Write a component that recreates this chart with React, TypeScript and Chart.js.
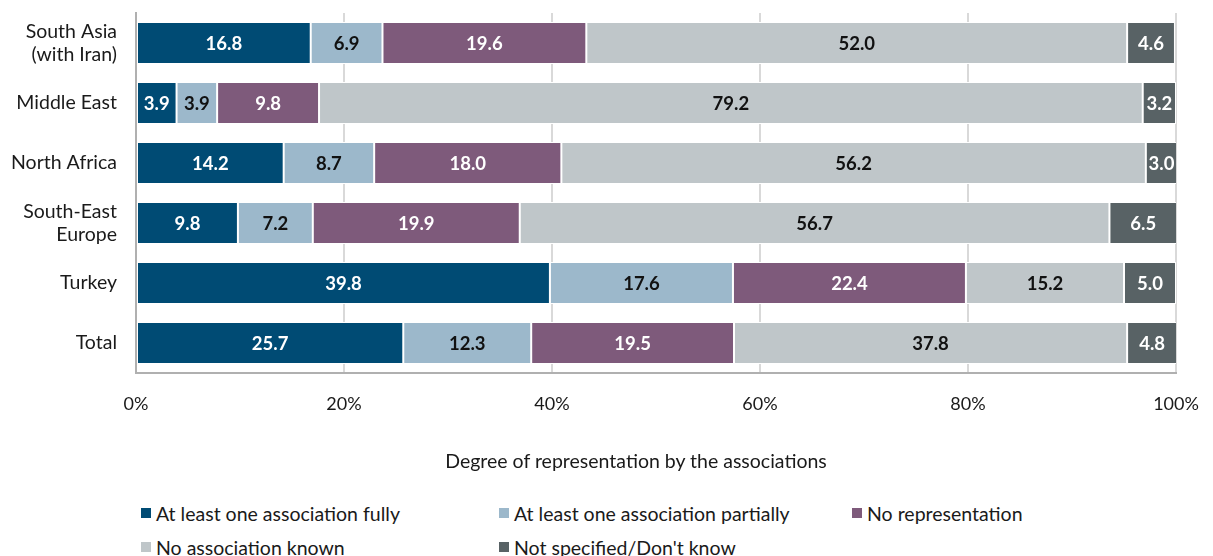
import React, { useEffect, useRef } from "react";
import { Chart, registerables } from "chart.js";

Chart.register(...registerables);

const categories: (string | string[])[] = [
  ["South Asia", "(with Iran)"],
  "Middle East",
  "North Africa",
  ["South-East", "Europe"],
  "Turkey",
  "Total",
];

const seriesNames = [
  "At least one association fully",
  "At least one association partially",
  "No representation",
  "No association known",
  "Not specified/Don't know",
];

const fully = [16.8, 3.9, 14.2, 9.8, 39.8, 25.7];
const partially = [6.9, 3.9, 8.7, 7.2, 17.6, 12.3];
const noRepresentation = [19.6, 9.8, 18.0, 19.9, 22.4, 19.5];
const noneKnown = [52.0, 79.2, 56.2, 56.7, 15.2, 37.8];
const notSpecified = [4.6, 3.2, 3.0, 6.5, 5.0, 4.8];

const xTicks = [0, 20, 40, 60, 80, 100];
const axisTitle = "Degree of representation by the associations";

const colors = ["#004b74", "#9cb8cb", "#7e5a7b", "#bfc6c9", "#586265"];
const labelColors = ["#ffffff", "#111111", "#ffffff", "#111111", "#ffffff"];

const FONT = "Lato, 'Noto Sans', sans-serif";

const valueLabels = {
  id: "valueLabels",
  afterDatasetsDraw(chart: any) {
    const ctx = chart.ctx;
    ctx.save();
    ctx.font = `bold 18.5px ${FONT}`;
    ctx.textAlign = "center";
    ctx.textBaseline = "middle";
    chart.data.datasets.forEach((ds: any, i: number) => {
      const meta = chart.getDatasetMeta(i);
      meta.data.forEach((bar: any, j: number) => {
        const v = ds.data[j];
        const p = bar.getCenterPoint();
        ctx.fillStyle = labelColors[i];
        ctx.fillText(Number(v).toFixed(1), p.x, p.y + 1);
      });
    });
    ctx.restore();
  },
};

export default function App() {
  const ref = useRef<HTMLCanvasElement>(null);

  useEffect(() => {
    if (!ref.current) return;
    const all = [fully, partially, noRepresentation, noneKnown, notSpecified];
    const chart = new Chart(ref.current, {
      type: "bar",
      data: {
        labels: categories,
        datasets: all.map((d, i) => ({
          label: seriesNames[i],
          data: d,
          backgroundColor: colors[i],
          borderColor: "#ffffff",
          borderWidth: 1,
          borderSkipped: false,
          barPercentage: 0.7,
          categoryPercentage: 1,
        })),
      },
      options: {
        indexAxis: "y",
        responsive: false,
        animation: false,
        layout: { padding: { top: 13, right: 37, left: 0, bottom: 0 } },
        plugins: {
          legend: { display: false },
          tooltip: { enabled: false },
        },
        scales: {
          x: {
            stacked: true,
            min: 0,
            max: 100,
            afterBuildTicks: (scale: any) => {
              scale.ticks = xTicks.map((v) => ({ value: v }));
            },
            afterFit: (scale: any) => {
              scale.height = 117;
              scale.paddingLeft = 0;
              scale.paddingRight = 0;
            },
            ticks: {
              padding: 20,
              color: "#1a1a1a",
              font: { size: 18, family: FONT },
              callback: (v: any) => `${v}%`,
            },
            grid: {
              color: "#d9d9d9",
              lineWidth: 2,
              drawTicks: false,
            },
            border: { display: true, color: "#b0b0b0", width: 2 },
            title: { display: false },
          },
          y: {
            stacked: true,
            afterFit: (scale: any) => {
              scale.width = 136;
              scale.paddingTop = 0;
              scale.paddingBottom = 0;
            },
            ticks: {
              padding: 19,
              color: "#1a1a1a",
              font: { size: 19.5, family: FONT, lineHeight: 1.2 },
            },
            grid: { display: false, drawTicks: false },
            border: { display: true, color: "#b0b0b0", width: 2 },
          },
        },
      },
      plugins: [valueLabels],
    });
    return () => chart.destroy();
  }, []);

  const legendPos = [
    { left: 141, top: 513 },
    { left: 499, top: 513 },
    { left: 852, top: 513 },
    { left: 141, top: 547 },
    { left: 499, top: 547 },
  ];

  return (
    <div
      style={{
        position: "absolute",
        left: 0,
        top: 0,
        width: 1213,
        height: 556,
        background: "#ffffff",
        overflow: "hidden",
        fontFamily: FONT,
      }}
    >
      <canvas
        ref={ref}
        width={1213}
        height={490}
        style={{ position: "absolute", left: 0, top: 0, width: 1213, height: 490 }}
      />
      <div
        style={{
          position: "absolute",
          left: 636,
          top: 461 - 12,
          height: 24,
          lineHeight: "24px",
          transform: "translateX(-50%)",
          fontSize: 19.5,
          color: "#1a1a1a",
          whiteSpace: "nowrap",
        }}
      >
        {axisTitle}
      </div>
      {seriesNames.map((name, i) => (
        <div
          key={name}
          style={{
            position: "absolute",
            left: legendPos[i].left,
            top: legendPos[i].top - 12,
            height: 24,
            display: "flex",
            alignItems: "center",
            fontSize: 19.5,
            color: "#1a1a1a",
            whiteSpace: "nowrap",
          }}
        >
          <span
            style={{
              display: "inline-block",
              width: 10,
              height: 10,
              background: colors[i],
              marginRight: 5,
            }}
          />
          <span>{name}</span>
        </div>
      ))}
    </div>
  );
}
